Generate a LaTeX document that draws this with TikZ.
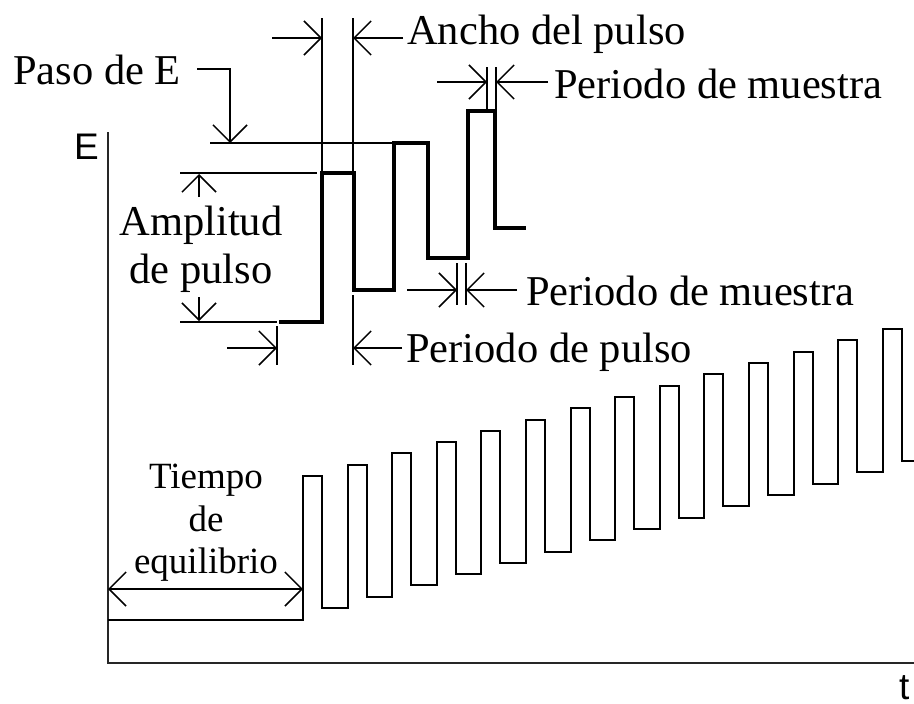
\documentclass[tikz,border=0pt]{standalone}
\usepackage{fontspec}
\setmainfont{Liberation Serif}
\newfontfamily\axisfont{Liberation Sans}
\usetikzlibrary{arrows.meta}
\begin{document}
\begin{tikzpicture}[x=1pt,y=-1pt,
  lbl/.style={font=\fontsize{42.5}{48}\selectfont, inner sep=0pt, anchor=base west},
  lblc/.style={lbl, anchor=base},
  smalllbl/.style={font=\fontsize{37}{42}\selectfont, inner sep=0pt, anchor=base},
  axlbl/.style={font=\axisfont\fontsize{37}{42}\selectfont, inner sep=0pt, anchor=base west},
  dim/.style={line width=1.5pt, black},
  dimarrow/.style={dim, -{Straight Barb[length=17pt,width=34pt,line width=1.5pt]}},
  dimboth/.style={dim, {Straight Barb[length=17pt,width=34pt,line width=1.5pt]}-{Straight Barb[length=17pt,width=34pt,line width=1.5pt]}},
  wavethin/.style={line width=2pt, line join=miter},
  wavethick/.style={line width=4pt, line join=miter},
  axisline/.style={line width=2pt, draw=black!85}]
\useasboundingbox (0,0) rectangle (914,704);

% ---------- axes ----------
\coordinate (ytop) at (108,132);
\coordinate (orig) at (108,663);
\coordinate (xend) at (914,663);
\draw[axisline] (ytop) -- (orig) -- (xend);
\node[axlbl] (Elab) at (74,159) {E};
\node[axlbl] (tlab) at (899,699) {t};

% ---------- lower waveform ----------
\begin{scope}
\clip (0,0) rectangle (914,704);
\coordinate (w0) at (108,620);
\coordinate (w1) at (303,620);
\draw[wavethin] (w0) -- (w1)
  \foreach \i in {0,...,13}{
    -- ({303+44.6*\i},{476-11.3*\i}) -- ({322+44.6*\i},{476-11.3*\i})
    -- ({322+44.6*\i},{608-11.3*\i}) -- ({347.6+44.6*\i},{608-11.3*\i}) };
\end{scope}

% ---------- equilibrium time ----------
\coordinate (eqL) at (108,589);
\coordinate (eqR) at (303,589);
\draw[dimboth] (eqL) -- (eqR);
\node[smalllbl] (tiempo) at (206,488) {Tiempo};
\node[smalllbl] (de) at (206,531) {de};
\node[smalllbl] (equil) at (206,573) {equilibrio};

% ---------- upper detail waveform ----------
\coordinate (p0) at (279,322);
\coordinate (p1) at (322,322);
\coordinate (p2) at (322,173);
\coordinate (p3) at (354,173);
\coordinate (p4) at (354,290);
\coordinate (p5) at (394,290);
\coordinate (p6) at (394,143);
\coordinate (p7) at (428,143);
\coordinate (p8) at (428,258);
\coordinate (p9) at (468,258);
\coordinate (p10) at (468,111);
\coordinate (p11) at (495,111);
\coordinate (p12) at (495,228);
\coordinate (p13) at (526,228);
\draw[wavethick] (p0) -- (p1) -- (p2) -- (p3) -- (p4) -- (p5) -- (p6) -- (p7)
  -- (p8) -- (p9) -- (p10) -- (p11) -- (p12) -- (p13);

% ---------- Ancho del pulso ----------
\coordinate (aw1t) at (322,18);
\coordinate (aw2t) at (353,18);
\coordinate (aw2b) at (353,173);
\draw[dim] (aw1t) -- (p2);
\draw[dim] (aw2t) -- (aw2b);
\coordinate (aw1a) at (272,38);
\coordinate (aw1b) at (322,38);
\coordinate (aw2a) at (403,38);
\coordinate (aw2c) at (353,38);
\draw[dimarrow] (aw1a) -- (aw1b);
\draw[dimarrow] (aw2a) -- (aw2c);
\node[lbl] (ancho) at (407,45) {Ancho del pulso};

% ---------- Paso de E ----------
\node[lbl] (paso) at (13,84) {Paso de E};
\coordinate (ps0) at (197,69);
\coordinate (ps1) at (230,143);
\draw[dimarrow] (ps0) -| (ps1);
\coordinate (psl) at (210,143);
\draw[dim] (psl) -- (p6);

% ---------- Amplitud de pulso ----------
\coordinate (am1) at (180,173);
\coordinate (am2) at (317,173);
\coordinate (am3) at (180,322);
\coordinate (am4) at (277,322);
\draw[dim] (am1) -- (am2);
\draw[dim] (am3) -- (am4);
\coordinate (amu0) at (199,197);
\coordinate (amu1) at (199,174);
\coordinate (amd0) at (199,297);
\coordinate (amd1) at (199,321);
\draw[dimarrow] (amu0) -- (amu1);
\draw[dimarrow] (amd0) -- (amd1);
\node[lblc] (ampl) at (201,235) {Amplitud};
\node[lblc] (depulso) at (201,283) {de pulso};

% ---------- Periodo de pulso ----------
\coordinate (pp1t) at (277,326);
\coordinate (pp1b) at (277,365);
\coordinate (pp2t) at (353,295);
\coordinate (pp2b) at (353,365);
\draw[dim] (pp1t) -- (pp1b);
\draw[dim] (pp2t) -- (pp2b);
\coordinate (ppa0) at (227,348);
\coordinate (ppa1) at (277,348);
\coordinate (ppb0) at (402,348);
\coordinate (ppb1) at (353,348);
\draw[dimarrow] (ppa0) -- (ppa1);
\draw[dimarrow] (ppb0) -- (ppb1);
\node[lbl] (pperiod) at (406,362) {Periodo de pulso};

% ---------- Periodo de muestra (lower) ----------
\coordinate (ml1t) at (457,263);
\coordinate (ml1b) at (457,305);
\coordinate (ml2t) at (466,263);
\coordinate (ml2b) at (466,305);
\draw[dim] (ml1t) -- (ml1b);
\draw[dim] (ml2t) -- (ml2b);
\coordinate (mla0) at (407,290);
\coordinate (mla1) at (457,290);
\coordinate (mlb0) at (517,290);
\coordinate (mlb1) at (466,290);
\draw[dimarrow] (mla0) -- (mla1);
\draw[dimarrow] (mlb0) -- (mlb1);
\node[lbl] (muestra2) at (526,305) {Periodo de muestra};

% ---------- Periodo de muestra (upper) ----------
\coordinate (mu1t) at (487,67);
\coordinate (mu1b) at (487,110);
\coordinate (mu2t) at (496,67);
\coordinate (mu2b) at (496,110);
\draw[dim] (mu1t) -- (mu1b);
\draw[dim] (mu2t) -- (mu2b);
\coordinate (mua0) at (437,82);
\coordinate (mua1) at (487,82);
\coordinate (mub0) at (548,82);
\coordinate (mub1) at (496,82);
\draw[dimarrow] (mua0) -- (mua1);
\draw[dimarrow] (mub0) -- (mub1);
\node[lbl] (muestra1) at (554,98) {Periodo de muestra};
\end{tikzpicture}
\end{document}
